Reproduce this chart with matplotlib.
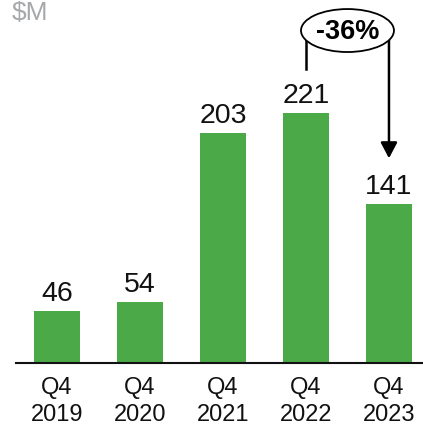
import matplotlib
matplotlib.use("Agg")
import matplotlib.pyplot as plt
from matplotlib.patches import Ellipse

plt.rcParams['font.family'] = ['Liberation Sans', 'DejaVu Sans']

categories = ["Q4\n2019", "Q4\n2020", "Q4\n2021", "Q4\n2022", "Q4\n2023"]
values = [46, 54, 203, 221, 141]
change_label = "-36%"
unit_label = "$M"

W, H = 423, 429
fig = plt.figure(figsize=(W / 100, H / 100), dpi=100)
ax = fig.add_axes([16 / W, 66 / H, 407 / W, 363 / H])

green = '#4BAA47'
x = list(range(len(values)))
ax.bar(x, values, width=0.554, color=green)

ax.set_xlim(-0.494, 4.41)
ax.set_ylim(0, 321)

for xi, v in zip(x, values):
    ax.text(xi, v + 3.5, str(v), ha='center', va='bottom', fontsize=20.5, color='#111111')

ax.set_xticks(x)
ax.set_xticklabels(categories, fontsize=17, linespacing=1.3, color='#111111')
ax.tick_params(axis='x', length=0, pad=10)
ax.set_yticks([])
for s in ['top', 'left', 'right']:
    ax.spines[s].set_visible(False)
ax.spines['bottom'].set_linewidth(1.5)
ax.spines['bottom'].set_color('#111111')

# annotation
ell = Ellipse((3.5, 294), width=1.12, height=38, facecolor='white', edgecolor='black',
              linewidth=1.3, clip_on=False, zorder=5)
ax.add_patch(ell)
ax.text(3.5, 293, change_label, ha='center', va='center', fontsize=19.5, fontweight='bold',
        zorder=6, clip_on=False)
ax.plot([3, 3], [286, 260], color='black', lw=1.8, clip_on=False, zorder=4)
ax.annotate('', xy=(4, 181), xytext=(4, 286),
            arrowprops=dict(arrowstyle='-|>,head_length=0.95,head_width=0.5', color='black',
                            lw=1.8, shrinkA=0, shrinkB=0),
            annotation_clip=False, zorder=4)

fig.text(12 / W, 1 - 20 / H, unit_label, ha='left', va='baseline', fontsize=19, color='#A6A8AB')

fig.savefig('out.png', dpi=100)
